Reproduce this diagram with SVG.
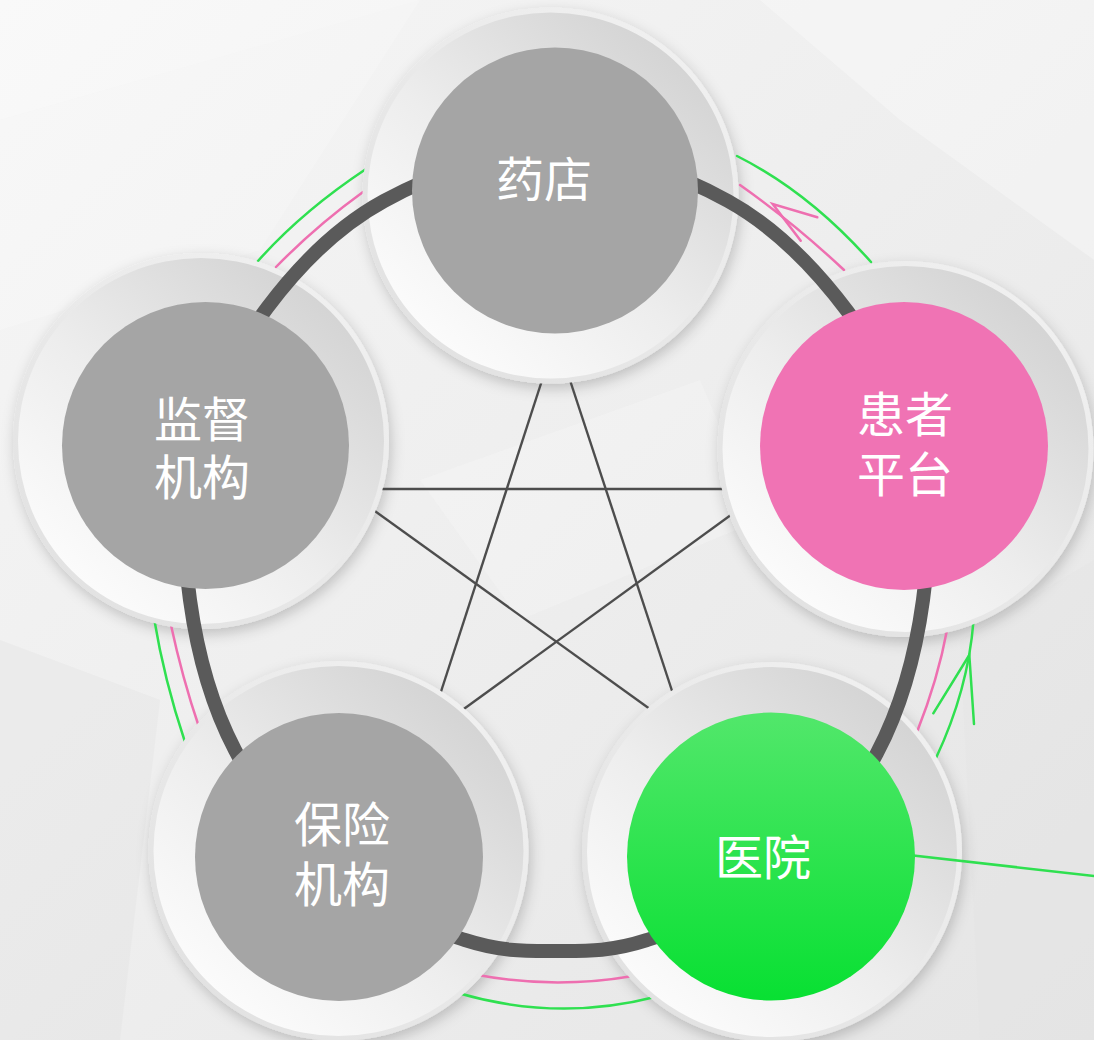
<svg xmlns="http://www.w3.org/2000/svg" width="1094" height="1040" viewBox="0 0 1094 1040">
<defs>
  <linearGradient id="bg" x1="0" y1="0" x2="1" y2="1">
    <stop offset="0" stop-color="#f6f6f6"/>
    <stop offset="0.5" stop-color="#eeeeee"/>
    <stop offset="1" stop-color="#e5e5e5"/>
  </linearGradient>
  <linearGradient id="face" x1="0.85" y1="0.1" x2="0.15" y2="0.9">
    <stop offset="0" stop-color="#d3d3d3"/>
    <stop offset="0.55" stop-color="#ededed"/>
    <stop offset="1" stop-color="#fcfcfc"/>
  </linearGradient>
  <linearGradient id="rim" x1="0.85" y1="0.1" x2="0.15" y2="0.9">
    <stop offset="0" stop-color="#f0f0f0"/>
    <stop offset="1" stop-color="#e2e2e2"/>
  </linearGradient>
  <linearGradient id="greenFill" x1="0" y1="0" x2="0" y2="1">
    <stop offset="0" stop-color="#52e76b"/>
    <stop offset="1" stop-color="#08e032"/>
  </linearGradient>
  <filter id="shadow" x="-25%" y="-25%" width="150%" height="150%">
    <feDropShadow dx="2" dy="5" stdDeviation="7" flood-color="#000" flood-opacity="0.2"/>
  </filter>
  <mask id="outsidePlates" maskUnits="userSpaceOnUse" x="0" y="0" width="1094" height="1040">
    <rect x="0" y="0" width="1094" height="1040" fill="#fff"/>
    <circle cx="550.5" cy="195.5" r="188" fill="#000"/>
    <circle cx="201" cy="441" r="188" fill="#000"/>
    <circle cx="905.5" cy="449" r="188" fill="#000"/>
    <circle cx="338.5" cy="851" r="190" fill="#000"/>
    <circle cx="772" cy="852" r="190" fill="#000"/>
  </mask>
  <style>
    .rim { fill: url(#rim); filter: url(#shadow); }
    .face { fill: url(#face); }
    .grey { fill: #a5a5a5; }
    .pink { fill: #f073b4; }
    .green { fill: url(#greenFill); }
    .label { fill: #ffffff; font-family: "Noto Sans CJK SC", "Noto Sans", sans-serif; font-size: 48px; text-anchor: middle; }
    .star { stroke: #4d4d4d; stroke-width: 2.4; fill: none; }
    .ring { stroke: #5a5a5a; stroke-width: 14; fill: none; }
    .pk { stroke: #ee6fb0; stroke-width: 2.5; fill: none; stroke-linecap: round; }
    .gn { stroke: #2fe050; stroke-width: 2.5; fill: none; stroke-linecap: round; }
  </style>
</defs>

<!-- background -->
<rect x="0" y="0" width="1094" height="1040" fill="url(#bg)"/>
<g id="background-facets">
  <polygon points="0,0 420,0 0,120" fill="#ffffff" opacity="0.3"/>
  <polygon points="0,120 420,0 260,250 0,330" fill="#ffffff" opacity="0.2"/>
  <polygon points="760,0 1094,0 1094,260 900,120" fill="#ffffff" opacity="0.3"/>
  <polygon points="0,640 160,700 120,1040 0,1040" fill="#d8d8d8" opacity="0.2"/>
  <polygon points="960,640 1094,560 1094,1040 980,1040" fill="#e0e0e0" opacity="0.2"/>
  <polygon points="420,480 700,380 760,520 520,620" fill="#f8f8f8" opacity="0.3"/>
</g>

<!-- plates (outer discs of the nodes) -->
<g id="plates">
  <g id="plate-yaodian"><circle class="rim" cx="550.5" cy="195.5" r="188"/><circle class="face" cx="550.5" cy="195.5" r="183"/></g>
  <g id="plate-jiandu"><circle class="rim" cx="201" cy="441" r="188"/><circle class="face" cx="201" cy="441" r="183"/></g>
  <g id="plate-huanzhe"><circle class="rim" cx="905.5" cy="449" r="188"/><circle class="face" cx="905.5" cy="449" r="183"/></g>
  <g id="plate-baoxian"><circle class="rim" cx="338.5" cy="851" r="190"/><circle class="face" cx="338.5" cy="851" r="185"/></g>
  <g id="plate-yiyuan"><circle class="rim" cx="772" cy="852" r="190"/><circle class="face" cx="772" cy="852" r="185"/></g>
</g>

<!-- connectors -->
<g id="connectors">
  <g mask="url(#outsidePlates)">
    <!-- pentagram -->
    <line class="star" x1="547" y1="365" x2="436" y2="707"/>
    <line class="star" x1="565" y1="365" x2="677" y2="706"/>
    <line class="star" x1="368" y1="489" x2="743" y2="489"/>
    <line class="star" x1="363" y1="502.5" x2="661" y2="717"/>
    <line class="star" x1="746" y1="504" x2="450" y2="719"/>
    <!-- coloured arcs -->
    <path class="gn" d="M258,261 Q301.9,211.6 366,169"/>
    <path class="pk" d="M276,267 Q316,226 363,192"/>
    <path class="gn" d="M737,156 Q808.9,192 871,262"/>
    <path class="pk" d="M740,185 Q794,223 844,270"/>
    <path class="pk" d="M947,630 Q938,679 917,732"/>
    <path class="gn" d="M973.5,621 Q968,690 936,758"/>
    <path class="pk" d="M478,975 Q554.5,989.5 633,976"/>
    <path class="gn" d="M458,993 Q557.5,1022 655,997"/>
    <path class="gn" d="M154,618 Q164.2,680 185,742"/>
    <path class="pk" d="M170.5,623 Q182.4,678.4 199,727"/>
  </g>
  <!-- arrowheads -->
  <polyline class="pk" points="817.3,217.3 772.7,204 800.7,240.7"/>
  <polyline class="gn" points="933.3,713.3 969.3,655 974,724"/>
  <!-- main ring -->
  <path class="ring" d="M556,150 C613.3,150 679.3,174 728,201 C776.7,228 816.3,269.7 848,312 C879.7,354.3 905.5,407 918,455 C930.5,503 929.8,550.3 923,600 C916.2,649.7 901.7,706.3 877,753 C852.3,799.7 813.3,848.8 775,880 C736.7,911.2 683.5,928.2 647,940 C610.5,951.8 586.3,951 556,951 C525.7,951 501.5,951.8 465,940 C428.5,928.2 375.3,912 337,880 C298.7,848 259.5,796.7 235,750 C210.5,703.3 196.8,649.2 190,600 C183.2,550.8 181.2,503.7 194,455 C206.8,406.3 235.3,350.3 267,308 C298.7,265.7 335.8,227.3 384,201 C432.2,174.7 498.7,150 556,150 Z"/>
  <!-- green line to the right -->
  <line class="gn" x1="900" y1="854" x2="1094" y2="876"/>
</g>

<!-- nodes -->
<g id="node-yaodian">
  <circle class="grey" cx="555" cy="190.5" r="143"/>
  <text class="label" x="544" y="197">药店</text>
</g>
<g id="node-jiandu">
  <circle class="grey" cx="205.5" cy="445.5" r="143.5"/>
  <text class="label" x="202" y="436.5">监督</text>
  <text class="label" x="202" y="495">机构</text>
</g>
<g id="node-huanzhe">
  <circle class="pink" cx="904" cy="446" r="144"/>
  <text class="label" x="905" y="431.5">患者</text>
  <text class="label" x="905" y="491.5">平台</text>
</g>
<g id="node-baoxian">
  <circle class="grey" cx="339" cy="857" r="144"/>
  <text class="label" x="342" y="841.5">保险</text>
  <text class="label" x="342" y="901.5">机构</text>
</g>
<g id="node-yiyuan">
  <circle class="green" cx="771" cy="856.5" r="144"/>
  <text class="label" x="763" y="874.5">医院</text>
</g>
</svg>
